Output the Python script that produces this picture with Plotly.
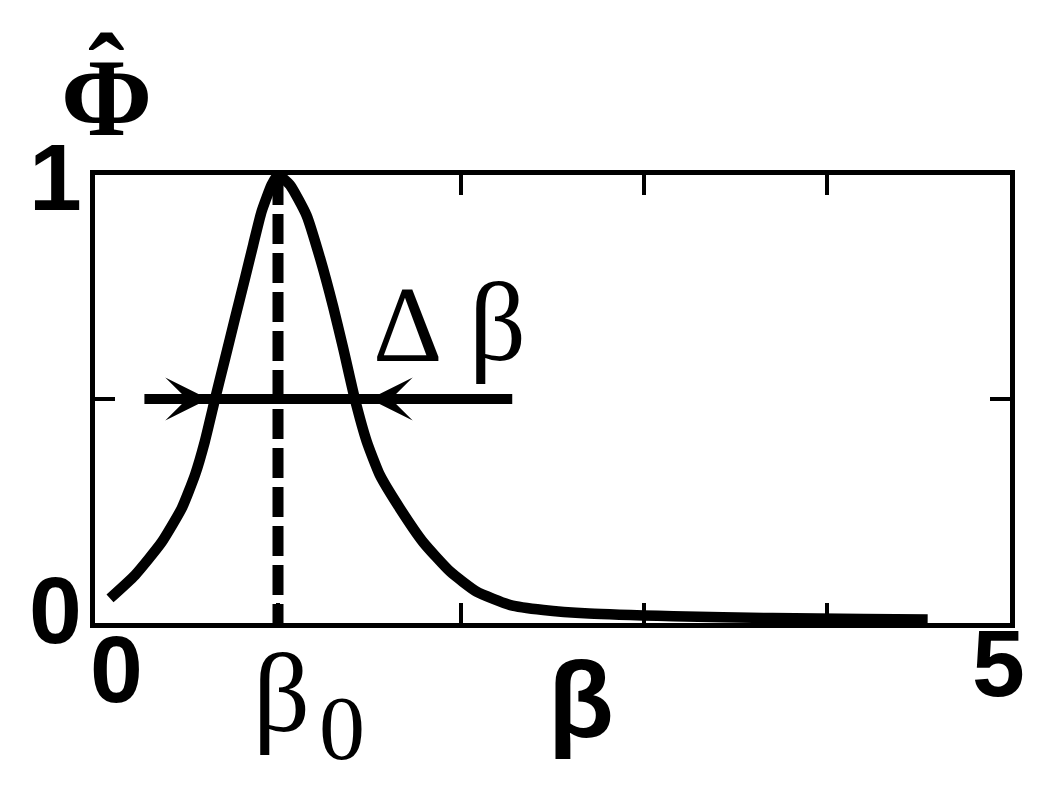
import plotly.graph_objects as go

# ---- data ----
beta = [0.082, 0.219, 0.364, 0.474, 0.546, 0.60, 0.656, 0.71, 0.765, 0.82, 0.865, 0.91, 0.965, 1.0,
        1.065, 1.156, 1.23, 1.302, 1.357, 1.42, 1.485, 1.557, 1.666, 1.794, 1.94, 2.085, 2.27,
        2.45, 2.70, 3.16, 3.7, 4.2, 4.55]
phi = [0.055, 0.107, 0.18, 0.256, 0.33, 0.405, 0.50, 0.589, 0.68, 0.77, 0.845, 0.918, 0.978, 1.0,
       0.978, 0.91, 0.814, 0.705, 0.612, 0.50, 0.405, 0.33, 0.256, 0.18, 0.115, 0.07, 0.04,
       0.029, 0.021, 0.015, 0.011, 0.009, 0.008]
beta0 = 1.0
half_level = 0.5
width_line = [0.27, 2.28]
arrow_tips = [0.62, 1.50]
x_ticks = [1, 2, 3, 4]
y_ticks = [0.5]
x_tick_labels = {"0": 0, "5": 5}
y_tick_labels = {"0": 0, "1": 1}

fig = go.Figure()
fig.add_trace(go.Scatter(x=beta, y=phi, mode="lines", cliponaxis=False,
                         line=dict(color="black", width=10.5, shape="spline", smoothing=0.5)))
fig.add_trace(go.Scatter(x=[beta0, beta0], y=[1, 0], mode="lines",
                         line=dict(color="black", width=11, dash="30px,9px")))
fig.add_trace(go.Scatter(x=width_line, y=[half_level, half_level], mode="lines",
                         line=dict(color="black", width=10)))

for tip, tail in zip(arrow_tips, width_line):
    fig.add_annotation(x=tip, y=half_level, ax=tail, ay=half_level, xref="x", yref="y",
                       axref="x", ayref="y", text="", showarrow=True, arrowhead=3,
                       arrowsize=0.8, arrowwidth=9, arrowcolor="black")

sans = "Liberation Sans"
serif = "Liberation Serif"

# tick labels
x_label_shift = {0: (21, -46), 5: (-12, -40)}
for txt, xv in x_tick_labels.items():
    dx, dy = x_label_shift[xv]
    fig.add_annotation(x=xv, y=0, xref="x", yref="y", text=f"<b>{txt}</b>", showarrow=False,
                       xanchor="center", yanchor="middle", xshift=dx, yshift=dy,
                       font=dict(family=sans, size=95, color="black"))
y_label_shift = {0: 13, 1: -2}
for txt, yv in y_tick_labels.items():
    fig.add_annotation(x=0, y=yv, xref="x", yref="y", text=f"<b>{txt}</b>", showarrow=False,
                       xanchor="center", yanchor="middle", xshift=-40,
                       yshift=y_label_shift[yv],
                       font=dict(family=sans, size=95, color="black"))

# axis symbols
fig.add_annotation(x=beta0, y=0, xref="x", yref="y", text="β", showarrow=False,
                   xanchor="center", yanchor="middle", xshift=3, yshift=-70,
                   font=dict(family=serif, size=112, color="black"))
fig.add_annotation(x=beta0, y=0, xref="x", yref="y", text="0", showarrow=False,
                   xanchor="center", yanchor="middle", xshift=64, yshift=-105,
                   font=dict(family=serif, size=92, color="black"))
fig.add_annotation(x=2.656, y=0, xref="x", yref="y", text="<b>β</b>", showarrow=False,
                   xanchor="center", yanchor="middle", yshift=-76,
                   font=dict(family=sans, size=108, color="black"))
fig.add_annotation(x=1.71, y=0.667, xref="x", yref="y", text="Δ", showarrow=False,
                   xanchor="center", yanchor="middle",
                   font=dict(family=serif, size=108, color="black"))
fig.add_annotation(x=2.197, y=0.673, xref="x", yref="y", text="β", showarrow=False,
                   xanchor="center", yanchor="middle",
                   font=dict(family=serif, size=112, color="black"))
fig.add_annotation(x=0.0131, y=1.172, xref="paper", yref="paper", text="<b>Φ</b>",
                   showarrow=False, xanchor="center", yanchor="middle",
                   font=dict(family=serif, size=110, color="black"))
fig.add_annotation(x=0.0131, y=1.228, xref="paper", yref="paper", text="<b>ˆ</b>",
                   showarrow=False, xanchor="center", yanchor="middle",
                   font=dict(family=serif, size=110, color="black"))

axis_common = dict(showline=True, linewidth=4.5, linecolor="black", mirror="ticks",
                   ticks="inside", ticklen=20, tickwidth=4, tickcolor="black",
                   showticklabels=False, showgrid=False, zeroline=False)
fig.update_xaxes(range=[0, 5], tickvals=x_ticks, **axis_common)
fig.update_yaxes(range=[0, 1], tickvals=y_ticks, **axis_common)
fig.update_layout(width=1048, height=786, margin=dict(l=95, r=38, t=175, b=163),
                  plot_bgcolor="white", paper_bgcolor="white", showlegend=False)

fig.write_html("out.html", config={"displayModeBar": False},
               post_script="document.body.style.margin='0px';")
